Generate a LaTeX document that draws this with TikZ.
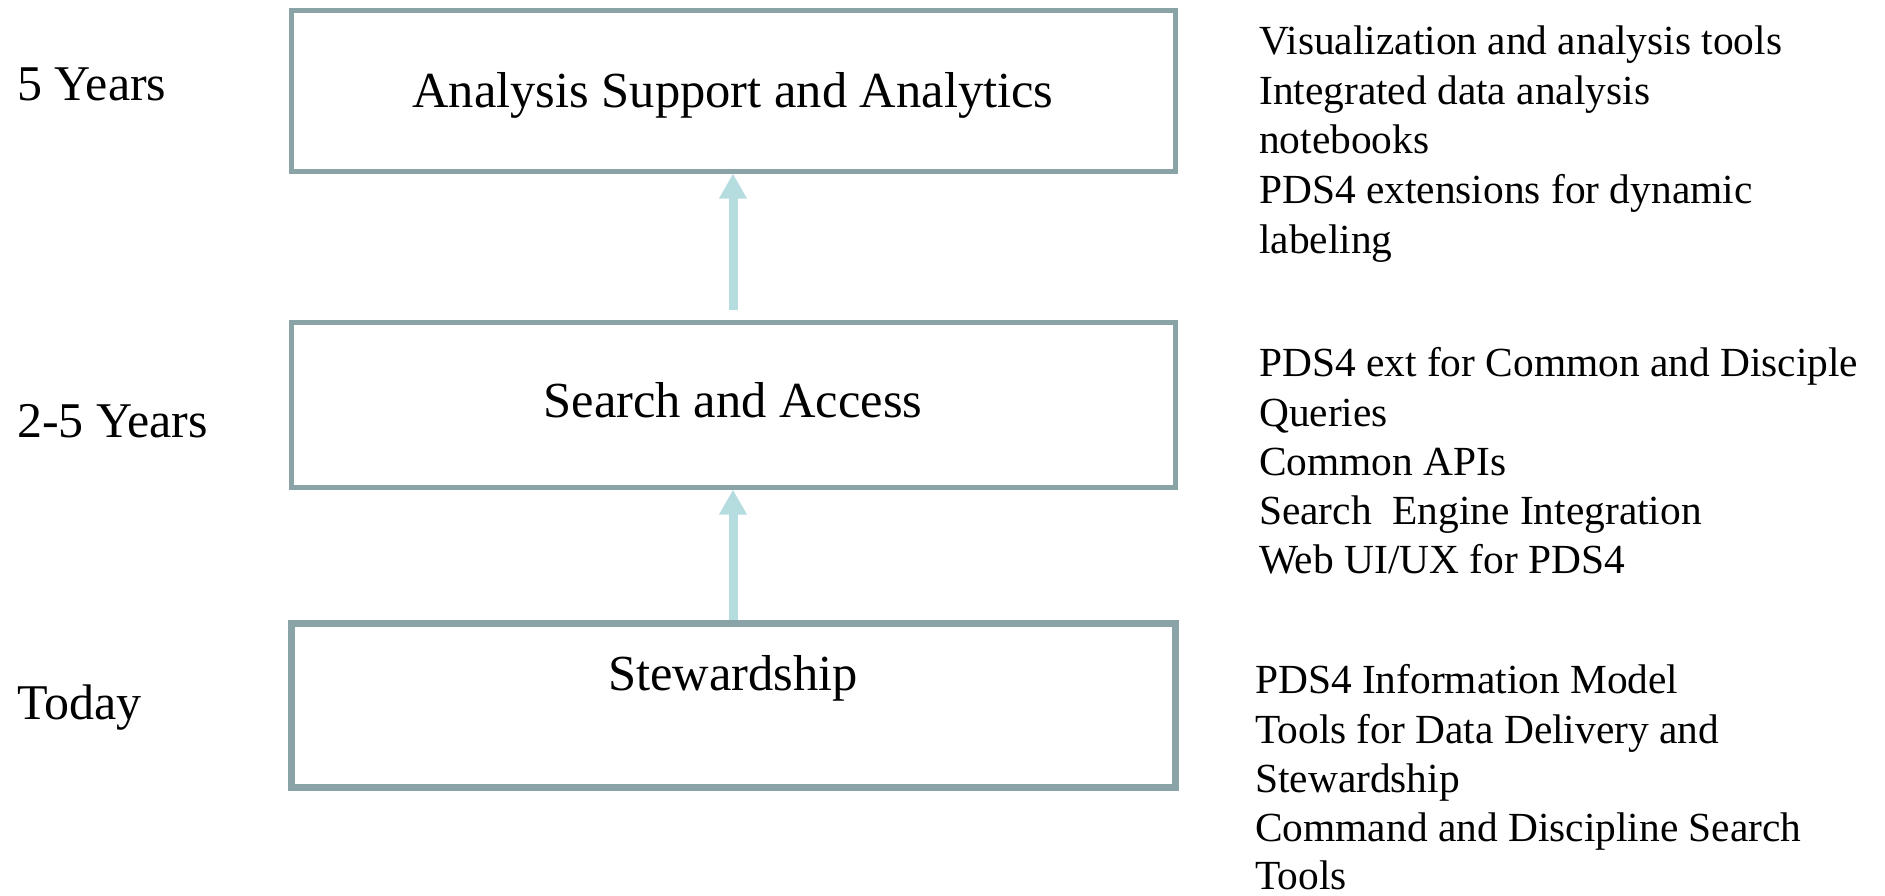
\documentclass[tikz,border=0pt]{standalone}
\usepackage{fontspec}
\setmainfont{Liberation Serif}
\usetikzlibrary{arrows.meta}
\definecolor{boxline}{HTML}{8AA3A6}
\definecolor{arrowcol}{HTML}{B5DCDF}
\tikzset{
  stagebox/.style={draw=boxline, line width=5pt, rectangle, inner sep=0pt,
    minimum width=884pt, minimum height=#1},
  stagetext/.style={anchor=base, inner sep=0pt, font=\fontsize{50.5}{60}\selectfont},
  timelabel/.style={anchor=base west, inner sep=0pt, font=\fontsize{50}{58}\selectfont},
  itemtext/.style={anchor=base west, inner sep=0pt, font=\fontsize{41.4}{50}\selectfont},
  uparrow/.style={draw=arrowcol, line width=9pt, -{Triangle[width=26pt,length=25pt]}, color=arrowcol}
}
\begin{document}
\begin{tikzpicture}[x=1pt,y=-1pt]
\useasboundingbox (0,0) rectangle (1885,895);
% boxes
\node[stagebox=161pt] (b1) at (733,90.5) {};
\node[stagebox=165pt] (b2) at (733,404.5) {};
\node[stagebox=164pt, line width=7pt] (b3) at (733,705) {};
% box texts
\node[stagetext] (t1) at (733,107) {Analysis Support and Analytics};
\node[stagetext] (t2) at (733,417) {Search and Access};
\node[stagetext] (t3) at (733,690) {Stewardship};
% arrows
\coordinate (a1) at (733,310);
\draw[uparrow] (a1) -- (b1.south);
\draw[uparrow] (b3.north) -- (b2.south);
% time labels
\node[timelabel] (l1) at (17,100) {5 Years};
\node[timelabel] (l2) at (17,437) {2-5 Years};
\node[timelabel] (l3) at (17,719) {Today};
% right block 1
\node[itemtext] (r11) at (1259,54) {Visualization and analysis tools};
\node[itemtext] (r12) at (1259,104) {Integrated data analysis};
\node[itemtext] (r13) at (1259,153) {notebooks};
\node[itemtext] (r14) at (1259,203) {PDS4 extensions for dynamic};
\node[itemtext] (r15) at (1259,253) {labeling};
% right block 2
\node[itemtext] (r21) at (1259,376) {PDS4 ext for Common and Disciple};
\node[itemtext] (r22) at (1259,426) {Queries};
\node[itemtext] (r23) at (1259,475) {Common APIs};
\node[itemtext] (r24) at (1259,524) {Search\ \ Engine Integration};
\node[itemtext] (r25) at (1259,573) {Web UI/UX for PDS4};
% right block 3
\node[itemtext] (r31) at (1255,693) {PDS4 Information Model};
\node[itemtext] (r32) at (1255,743) {Tools for Data Delivery and};
\node[itemtext] (r33) at (1255,792) {Stewardship};
\node[itemtext] (r34) at (1255,841) {Command and Discipline Search};
\node[itemtext] (r35) at (1255,889) {Tools};
\end{tikzpicture}
\end{document}
